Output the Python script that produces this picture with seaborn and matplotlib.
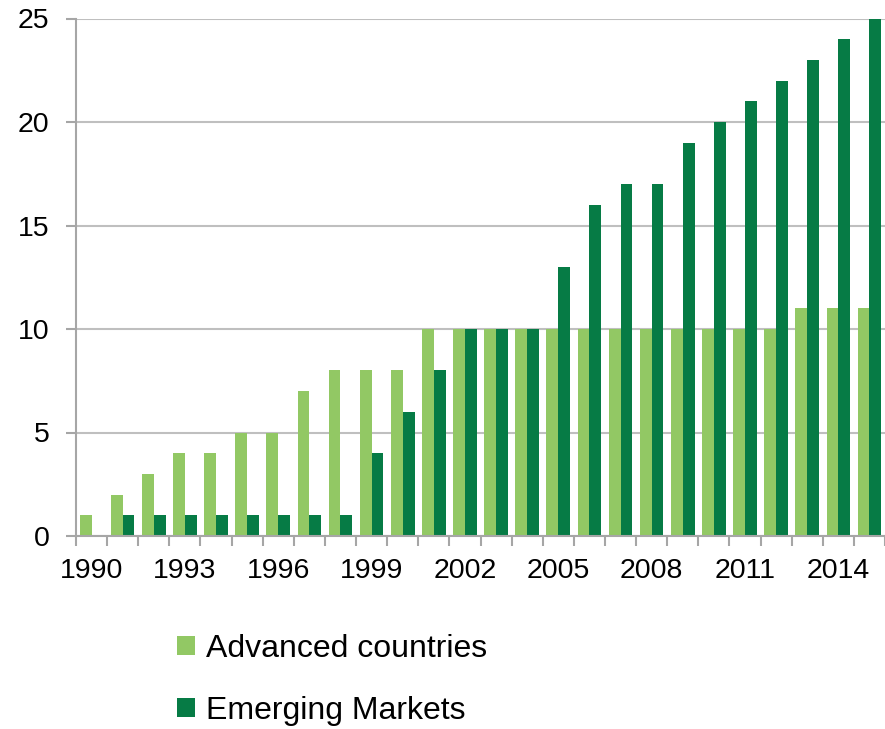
import numpy as np
import pandas as pd
import matplotlib
matplotlib.use("Agg")
import matplotlib.pyplot as plt
from matplotlib.ticker import FixedLocator, NullFormatter
from matplotlib.patches import Patch
import seaborn as sns

years = list(range(1990, 2016))
advanced = [1, 2, 3, 4, 4, 5, 5, 7, 8, 8, 8, 10, 10, 10, 10, 10, 10, 10, 10, 10, 10, 10, 10, 11, 11, 11]
emerging = [0, 1, 1, 1, 1, 1, 1, 1, 1, 4, 6, 8, 10, 10, 10, 13, 16, 17, 17, 19, 20, 21, 22, 23, 24, 25]
series_names = ["Advanced countries", "Emerging Markets"]
colors = ["#92C864", "#067B45"]

df = pd.DataFrame({
    "year": [str(y) for y in years] * 2,
    "value": advanced + emerging,
    "group": [series_names[0]] * len(years) + [series_names[1]] * len(years),
})

sns.set_style("white")
plt.rcParams["font.family"] = ["Liberation Sans", "DejaVu Sans"]
plt.rcParams["text.color"] = "black"

fig = plt.figure(figsize=(8.85, 7.29), dpi=100)
ax = fig.add_axes([76 / 885, 1 - 536 / 729, 1 - 76 / 885, (536 - 18.5) / 729])

sns.barplot(data=df, x="year", y="value", hue="group", order=[str(y) for y in years],
            hue_order=series_names, palette=colors, width=0.76, gap=0,
            saturation=1, legend=False, linewidth=0, edgecolor="none", ax=ax)

grid_c = "#BFBFBF"
ax.set_ylim(0, 25)
ax.set_xlim(-0.5, len(years) - 0.5)
ax.set_yticks(range(0, 26, 5))
ax.yaxis.grid(True, color=grid_c, linewidth=1.5)
ax.set_axisbelow(True)

label_idx = list(range(0, len(years), 3))
ax.set_xticks(label_idx)
ax.set_xticklabels([str(years[i]) for i in label_idx])
ax.xaxis.set_minor_locator(FixedLocator(np.arange(-0.5, len(years), 1.0)))
ax.xaxis.set_minor_formatter(NullFormatter())
ax.tick_params(axis="x", which="major", length=0, pad=15.5, labelsize=20.5, colors="black")
ax.tick_params(axis="x", which="minor", length=7, width=1.5, color="#A6A6A6", direction="out", bottom=True)
ax.tick_params(axis="y", length=7, width=1.5, color="#A6A6A6", pad=12, labelsize=20.5, labelcolor="black", left=True)

for s in ["top", "right"]:
    ax.spines[s].set_visible(False)
for s in ["left", "bottom"]:
    ax.spines[s].set_color("#A6A6A6")
    ax.spines[s].set_linewidth(1.5)
ax.set_xlabel("")
ax.set_ylabel("")

handles = [Patch(facecolor=c, edgecolor="none") for c in colors]
fig.legend(handles, series_names, loc="upper left", bbox_to_anchor=(177 / 885, 1 - 634 / 729),
           frameon=False, fontsize=23, handlelength=0.56, handleheight=0.56,
           handletextpad=0.36, labelspacing=1.0, borderaxespad=0, borderpad=0,
           labelcolor="black")

fig.savefig("out.png", dpi=100)
